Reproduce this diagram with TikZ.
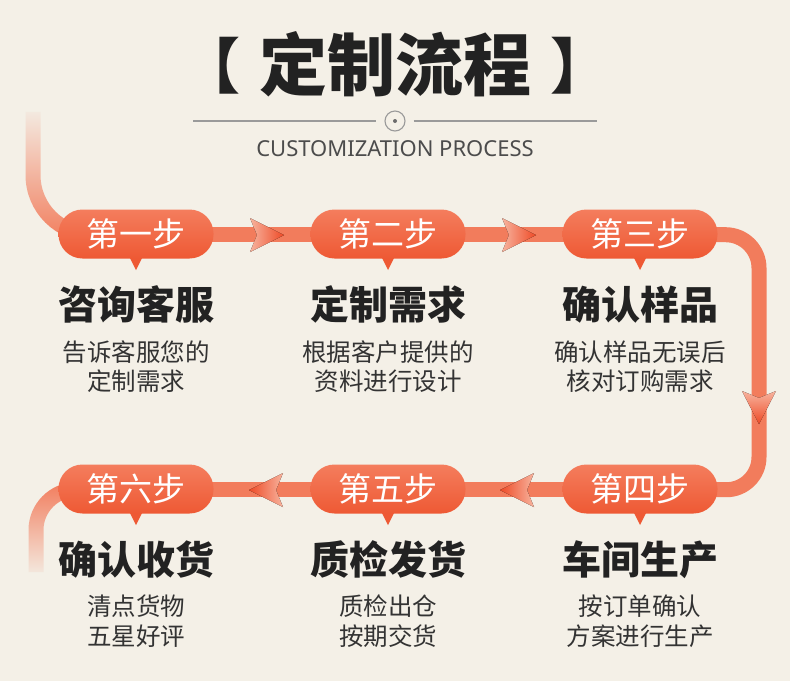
\documentclass[tikz,border=0pt]{standalone}
\usepackage{fontspec}
\newfontfamily\cjk{Noto Sans CJK SC}
\setmainfont{Noto Sans}
\usetikzlibrary{fadings}
\definecolor{bgc}{HTML}{F4F0E7}
\definecolor{band}{HTML}{F27C5C}
\definecolor{pilltop}{HTML}{F47D5D}
\definecolor{pillbot}{HTML}{EE5934}
\definecolor{tipc}{HTML}{EE4B27}
\definecolor{backc}{HTML}{F7B39E}
\definecolor{headc}{HTML}{222222}
\definecolor{subc}{HTML}{333333}
\definecolor{linec}{HTML}{9A9A9A}
\tikzfading[name=fadetop, top color=transparent!100, bottom color=transparent!0]
\tikzfading[name=fadebot, top color=transparent!0, bottom color=transparent!100]
\tikzset{
  bandline/.style={line width=15pt, draw=band},
  pill/.style={minimum width=155pt, minimum height=49pt, rounded corners=24pt,
    top color=pilltop, bottom color=pillbot, draw=none, inner sep=0pt},
  steptext/.style={anchor=base, text=white, font=\cjk\fontsize{33}{33}\selectfont},
  headtext/.style={anchor=base, text=headc, font=\cjk\bfseries\fontsize{39}{39}\selectfont},
  subtext/.style={anchor=base, text=subc, font=\cjk\fontsize{24.5}{24.5}\selectfont},
  arrR/.style={left color=backc, right color=tipc, draw=none},
  arrL/.style={right color=backc, left color=tipc, draw=none},
  arrD/.style={top color=backc, bottom color=tipc, draw=none},
}
\begin{document}
\begin{tikzpicture}[x=1pt,y=-1pt]
\fill[bgc] (0,0) rectangle (790,681);
\useasboundingbox (0,0) rectangle (790,681);
% title
\node[anchor=base, text=headc, font=\cjk\bfseries\fontsize{68}{68}\selectfont] (title) at (395,90) {定制流程};
\node[anchor=base, text=headc, font=\cjk\bfseries\fontsize{60}{60}\selectfont] (lbr) at (225,88) {\makebox[0pt]{【}\hspace*{30pt}};
\node[anchor=base, text=headc, font=\cjk\bfseries\fontsize{60}{60}\selectfont] (rbr) at (565,88) {\hspace*{30pt}\makebox[0pt]{】}};
\node[circle, draw=linec, line width=1.1pt, minimum size=20pt, inner sep=0pt] (dot) at (395,121) {};
\fill[linec!70!black] (dot.center) circle (2pt);
\coordinate (l1) at (193,121);
\coordinate (r1) at (597,121);
\draw[linec, line width=1.2pt] (l1) -- ([xshift=-8pt]dot.west);
\draw[linec, line width=1.2pt] ([xshift=8pt]dot.east) -- (r1);
\node[anchor=base, text=black!70, font=\fontsize{22}{22}\selectfont] (sub) at (395,156) {CUSTOMIZATION PROCESS};

% pills positions
\coordinate (p1) at (136,234);
\coordinate (p2) at (388,234);
\coordinate (p3) at (640,234);
\coordinate (p4) at (640,489);
\coordinate (p5) at (388,489);
\coordinate (p6) at (136,489);
\coordinate (s0) at (33,112);
\coordinate (e0) at (36,572);

% band
\draw[bandline, path fading=fadetop, rounded corners=60pt] (s0) -- (33,235) -- (p1);
\draw[bandline] (p1) -- (p2) -- (p3);
\draw[bandline, rounded corners=33pt] (p3) -- (759,235) -- (759,490) -- (p4);
\draw[bandline] (p4) -- (p5) -- (p6);
\draw[bandline, path fading=fadebot, rounded corners=40pt] (p6) -- (36,490) -- (e0);

% arrowheads
\fill[arrR] (250,218) -- (284,235) -- (250,252) -- (257,235) -- cycle;
\fill[arrR] (502,218) -- (536,235) -- (502,252) -- (509,235) -- cycle;
\fill[arrD] (742,391) -- (759,424) -- (776,391) -- (759,398) -- cycle;
\fill[arrL] (534,473) -- (500,490) -- (534,507) -- (527,490) -- cycle;
\fill[arrL] (283,473) -- (249,490) -- (283,507) -- (276,490) -- cycle;

% pills
\foreach \p/\t in {p1/第一步, p2/第二步, p3/第三步, p4/第四步, p5/第五步, p6/第六步}{
  \fill[pillbot] ([xshift=-7pt,yshift=-22pt]\p) -- ([xshift=7pt,yshift=-22pt]\p) -- ([yshift=-36pt]\p) -- cycle;
  \node[pill] (n\p) at (\p) {};
  \node[steptext] (t\p) at ([yshift=-12pt]\p) {\t};
}

% texts row 1
\node[headtext] (h1) at (136,319.5) {咨询客服};
\node[subtext] (a1) at (136,361) {告诉客服您的};
\node[subtext] (b1) at (136,390) {定制需求};
\node[headtext] (h2) at (388,319.5) {定制需求};
\node[subtext] (a2) at (388,361) {根据客户提供的};
\node[subtext] (b2) at (388,390) {资料进行设计};
\node[headtext] (h3) at (640,319.5) {确认样品};
\node[subtext] (a3) at (640,361) {确认样品无误后};
\node[subtext] (b3) at (640,390) {核对订购需求};
% row 2
\node[headtext] (h4) at (640,574.5) {车间生产};
\node[subtext] (a4) at (640,615) {按订单确认};
\node[subtext] (b4) at (640,645) {方案进行生产};
\node[headtext] (h5) at (388,574.5) {质检发货};
\node[subtext] (a5) at (388,615) {质检出仓};
\node[subtext] (b5) at (388,645) {按期交货};
\node[headtext] (h6) at (136,574.5) {确认收货};
\node[subtext] (a6) at (136,615) {清点货物};
\node[subtext] (b6) at (136,645) {五星好评};
\end{tikzpicture}
\end{document}
